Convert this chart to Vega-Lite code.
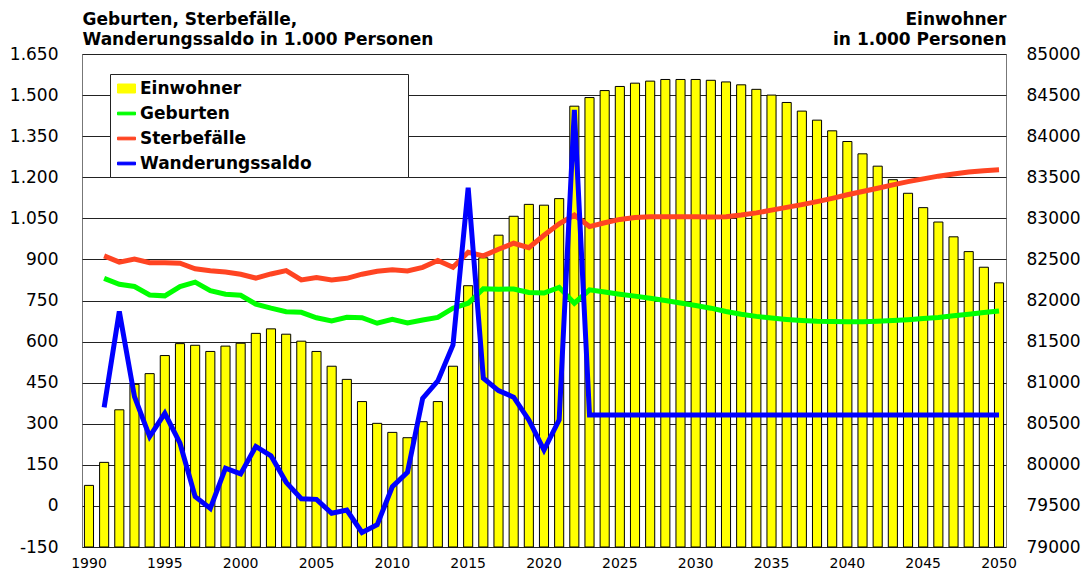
{
  "$schema": "https://vega.github.io/schema/vega-lite/v6.json",
  "width": 924,
  "height": 493,
  "autosize": {"type": "none"},
  "padding": {"left": 82, "top": 54, "right": 77, "bottom": 29},
  "background": "white",
  "config": {
    "view": {"stroke": "#777", "strokeWidth": 1},
    "font": "DejaVu Sans"
  },
  "datasets": {
    "bev": [
      {"year": 1990, "serie": "Einwohner", "value": 79750},
      {"year": 1991, "serie": "Einwohner", "value": 80030},
      {"year": 1992, "serie": "Einwohner", "value": 80670},
      {"year": 1993, "serie": "Einwohner", "value": 80980},
      {"year": 1994, "serie": "Einwohner", "value": 81110},
      {"year": 1995, "serie": "Einwohner", "value": 81330},
      {"year": 1996, "serie": "Einwohner", "value": 81475},
      {"year": 1997, "serie": "Einwohner", "value": 81455},
      {"year": 1998, "serie": "Einwohner", "value": 81380},
      {"year": 1999, "serie": "Einwohner", "value": 81445},
      {"year": 2000, "serie": "Einwohner", "value": 81480},
      {"year": 2001, "serie": "Einwohner", "value": 81600},
      {"year": 2002, "serie": "Einwohner", "value": 81655},
      {"year": 2003, "serie": "Einwohner", "value": 81590},
      {"year": 2004, "serie": "Einwohner", "value": 81505},
      {"year": 2005, "serie": "Einwohner", "value": 81380},
      {"year": 2006, "serie": "Einwohner", "value": 81200},
      {"year": 2007, "serie": "Einwohner", "value": 81040},
      {"year": 2008, "serie": "Einwohner", "value": 80770},
      {"year": 2009, "serie": "Einwohner", "value": 80505},
      {"year": 2010, "serie": "Einwohner", "value": 80395},
      {"year": 2011, "serie": "Einwohner", "value": 80330},
      {"year": 2012, "serie": "Einwohner", "value": 80525},
      {"year": 2013, "serie": "Einwohner", "value": 80770},
      {"year": 2014, "serie": "Einwohner", "value": 81200},
      {"year": 2015, "serie": "Einwohner", "value": 82180},
      {"year": 2016, "serie": "Einwohner", "value": 82520},
      {"year": 2017, "serie": "Einwohner", "value": 82795},
      {"year": 2018, "serie": "Einwohner", "value": 83025},
      {"year": 2019, "serie": "Einwohner", "value": 83170},
      {"year": 2020, "serie": "Einwohner", "value": 83160},
      {"year": 2021, "serie": "Einwohner", "value": 83240},
      {"year": 2022, "serie": "Einwohner", "value": 84365},
      {"year": 2023, "serie": "Einwohner", "value": 84470},
      {"year": 2024, "serie": "Einwohner", "value": 84555},
      {"year": 2025, "serie": "Einwohner", "value": 84605},
      {"year": 2026, "serie": "Einwohner", "value": 84645},
      {"year": 2027, "serie": "Einwohner", "value": 84670},
      {"year": 2028, "serie": "Einwohner", "value": 84690},
      {"year": 2029, "serie": "Einwohner", "value": 84690},
      {"year": 2030, "serie": "Einwohner", "value": 84690},
      {"year": 2031, "serie": "Einwohner", "value": 84680},
      {"year": 2032, "serie": "Einwohner", "value": 84660},
      {"year": 2033, "serie": "Einwohner", "value": 84625},
      {"year": 2034, "serie": "Einwohner", "value": 84570},
      {"year": 2035, "serie": "Einwohner", "value": 84500},
      {"year": 2036, "serie": "Einwohner", "value": 84410},
      {"year": 2037, "serie": "Einwohner", "value": 84305},
      {"year": 2038, "serie": "Einwohner", "value": 84195},
      {"year": 2039, "serie": "Einwohner", "value": 84065},
      {"year": 2040, "serie": "Einwohner", "value": 83935},
      {"year": 2041, "serie": "Einwohner", "value": 83785},
      {"year": 2042, "serie": "Einwohner", "value": 83635},
      {"year": 2043, "serie": "Einwohner", "value": 83470},
      {"year": 2044, "serie": "Einwohner", "value": 83305},
      {"year": 2045, "serie": "Einwohner", "value": 83130},
      {"year": 2046, "serie": "Einwohner", "value": 82955},
      {"year": 2047, "serie": "Einwohner", "value": 82775},
      {"year": 2048, "serie": "Einwohner", "value": 82595},
      {"year": 2049, "serie": "Einwohner", "value": 82405},
      {"year": 2050, "serie": "Einwohner", "value": 82215}
    ],
    "lines": [
      {"year": 1991, "serie": "Geburten", "value": 831},
      {"year": 1992, "serie": "Geburten", "value": 809},
      {"year": 1993, "serie": "Geburten", "value": 801},
      {"year": 1994, "serie": "Geburten", "value": 770},
      {"year": 1995, "serie": "Geburten", "value": 767},
      {"year": 1996, "serie": "Geburten", "value": 801},
      {"year": 1997, "serie": "Geburten", "value": 817},
      {"year": 1998, "serie": "Geburten", "value": 786},
      {"year": 1999, "serie": "Geburten", "value": 773},
      {"year": 2000, "serie": "Geburten", "value": 769},
      {"year": 2001, "serie": "Geburten", "value": 737},
      {"year": 2002, "serie": "Geburten", "value": 722},
      {"year": 2003, "serie": "Geburten", "value": 709},
      {"year": 2004, "serie": "Geburten", "value": 707},
      {"year": 2005, "serie": "Geburten", "value": 687},
      {"year": 2006, "serie": "Geburten", "value": 675},
      {"year": 2007, "serie": "Geburten", "value": 689},
      {"year": 2008, "serie": "Geburten", "value": 687},
      {"year": 2009, "serie": "Geburten", "value": 667},
      {"year": 2010, "serie": "Geburten", "value": 681},
      {"year": 2011, "serie": "Geburten", "value": 668},
      {"year": 2012, "serie": "Geburten", "value": 679},
      {"year": 2013, "serie": "Geburten", "value": 688},
      {"year": 2014, "serie": "Geburten", "value": 722},
      {"year": 2015, "serie": "Geburten", "value": 740},
      {"year": 2016, "serie": "Geburten", "value": 793},
      {"year": 2017, "serie": "Geburten", "value": 791},
      {"year": 2018, "serie": "Geburten", "value": 792},
      {"year": 2019, "serie": "Geburten", "value": 779},
      {"year": 2020, "serie": "Geburten", "value": 777},
      {"year": 2021, "serie": "Geburten", "value": 798},
      {"year": 2022, "serie": "Geburten", "value": 740},
      {"year": 2023, "serie": "Geburten", "value": 789},
      {"year": 2024, "serie": "Geburten", "value": 781},
      {"year": 2025, "serie": "Geburten", "value": 773},
      {"year": 2026, "serie": "Geburten", "value": 766},
      {"year": 2027, "serie": "Geburten", "value": 758},
      {"year": 2028, "serie": "Geburten", "value": 750},
      {"year": 2029, "serie": "Geburten", "value": 741},
      {"year": 2030, "serie": "Geburten", "value": 732},
      {"year": 2031, "serie": "Geburten", "value": 722},
      {"year": 2032, "serie": "Geburten", "value": 710},
      {"year": 2033, "serie": "Geburten", "value": 700},
      {"year": 2034, "serie": "Geburten", "value": 692},
      {"year": 2035, "serie": "Geburten", "value": 686},
      {"year": 2036, "serie": "Geburten", "value": 681},
      {"year": 2037, "serie": "Geburten", "value": 677},
      {"year": 2038, "serie": "Geburten", "value": 674},
      {"year": 2039, "serie": "Geburten", "value": 673},
      {"year": 2040, "serie": "Geburten", "value": 672},
      {"year": 2041, "serie": "Geburten", "value": 672},
      {"year": 2042, "serie": "Geburten", "value": 674},
      {"year": 2043, "serie": "Geburten", "value": 677},
      {"year": 2044, "serie": "Geburten", "value": 680},
      {"year": 2045, "serie": "Geburten", "value": 684},
      {"year": 2046, "serie": "Geburten", "value": 688},
      {"year": 2047, "serie": "Geburten", "value": 694},
      {"year": 2048, "serie": "Geburten", "value": 700},
      {"year": 2049, "serie": "Geburten", "value": 706},
      {"year": 2050, "serie": "Geburten", "value": 712},
      {"year": 1991, "serie": "Sterbefälle", "value": 913},
      {"year": 1992, "serie": "Sterbefälle", "value": 890},
      {"year": 1993, "serie": "Sterbefälle", "value": 901},
      {"year": 1994, "serie": "Sterbefälle", "value": 888},
      {"year": 1995, "serie": "Sterbefälle", "value": 888},
      {"year": 1996, "serie": "Sterbefälle", "value": 886},
      {"year": 1997, "serie": "Sterbefälle", "value": 866},
      {"year": 1998, "serie": "Sterbefälle", "value": 859},
      {"year": 1999, "serie": "Sterbefälle", "value": 854},
      {"year": 2000, "serie": "Sterbefälle", "value": 846},
      {"year": 2001, "serie": "Sterbefälle", "value": 832},
      {"year": 2002, "serie": "Sterbefälle", "value": 847},
      {"year": 2003, "serie": "Sterbefälle", "value": 859},
      {"year": 2004, "serie": "Sterbefälle", "value": 825},
      {"year": 2005, "serie": "Sterbefälle", "value": 834},
      {"year": 2006, "serie": "Sterbefälle", "value": 825},
      {"year": 2007, "serie": "Sterbefälle", "value": 831},
      {"year": 2008, "serie": "Sterbefälle", "value": 846},
      {"year": 2009, "serie": "Sterbefälle", "value": 857},
      {"year": 2010, "serie": "Sterbefälle", "value": 862},
      {"year": 2011, "serie": "Sterbefälle", "value": 858},
      {"year": 2012, "serie": "Sterbefälle", "value": 871},
      {"year": 2013, "serie": "Sterbefälle", "value": 896},
      {"year": 2014, "serie": "Sterbefälle", "value": 871},
      {"year": 2015, "serie": "Sterbefälle", "value": 926},
      {"year": 2016, "serie": "Sterbefälle", "value": 913},
      {"year": 2017, "serie": "Sterbefälle", "value": 937},
      {"year": 2018, "serie": "Sterbefälle", "value": 959},
      {"year": 2019, "serie": "Sterbefälle", "value": 943},
      {"year": 2020, "serie": "Sterbefälle", "value": 988},
      {"year": 2021, "serie": "Sterbefälle", "value": 1030},
      {"year": 2022, "serie": "Sterbefälle", "value": 1062},
      {"year": 2023, "serie": "Sterbefälle", "value": 1020},
      {"year": 2024, "serie": "Sterbefälle", "value": 1034},
      {"year": 2025, "serie": "Sterbefälle", "value": 1046},
      {"year": 2026, "serie": "Sterbefälle", "value": 1053},
      {"year": 2027, "serie": "Sterbefälle", "value": 1056},
      {"year": 2028, "serie": "Sterbefälle", "value": 1056},
      {"year": 2029, "serie": "Sterbefälle", "value": 1056},
      {"year": 2030, "serie": "Sterbefälle", "value": 1056},
      {"year": 2031, "serie": "Sterbefälle", "value": 1055},
      {"year": 2032, "serie": "Sterbefälle", "value": 1056},
      {"year": 2033, "serie": "Sterbefälle", "value": 1062},
      {"year": 2034, "serie": "Sterbefälle", "value": 1070},
      {"year": 2035, "serie": "Sterbefälle", "value": 1080},
      {"year": 2036, "serie": "Sterbefälle", "value": 1090},
      {"year": 2037, "serie": "Sterbefälle", "value": 1100},
      {"year": 2038, "serie": "Sterbefälle", "value": 1111},
      {"year": 2039, "serie": "Sterbefälle", "value": 1123},
      {"year": 2040, "serie": "Sterbefälle", "value": 1136},
      {"year": 2041, "serie": "Sterbefälle", "value": 1148},
      {"year": 2042, "serie": "Sterbefälle", "value": 1160},
      {"year": 2043, "serie": "Sterbefälle", "value": 1172},
      {"year": 2044, "serie": "Sterbefälle", "value": 1184},
      {"year": 2045, "serie": "Sterbefälle", "value": 1194},
      {"year": 2046, "serie": "Sterbefälle", "value": 1204},
      {"year": 2047, "serie": "Sterbefälle", "value": 1212},
      {"year": 2048, "serie": "Sterbefälle", "value": 1219},
      {"year": 2049, "serie": "Sterbefälle", "value": 1224},
      {"year": 2050, "serie": "Sterbefälle", "value": 1227},
      {"year": 1991, "serie": "Wanderungssaldo", "value": 360},
      {"year": 1992, "serie": "Wanderungssaldo", "value": 710},
      {"year": 1993, "serie": "Wanderungssaldo", "value": 399},
      {"year": 1994, "serie": "Wanderungssaldo", "value": 253},
      {"year": 1995, "serie": "Wanderungssaldo", "value": 338},
      {"year": 1996, "serie": "Wanderungssaldo", "value": 229},
      {"year": 1997, "serie": "Wanderungssaldo", "value": 34},
      {"year": 1998, "serie": "Wanderungssaldo", "value": -9},
      {"year": 1999, "serie": "Wanderungssaldo", "value": 138},
      {"year": 2000, "serie": "Wanderungssaldo", "value": 117},
      {"year": 2001, "serie": "Wanderungssaldo", "value": 217},
      {"year": 2002, "serie": "Wanderungssaldo", "value": 183},
      {"year": 2003, "serie": "Wanderungssaldo", "value": 86},
      {"year": 2004, "serie": "Wanderungssaldo", "value": 26},
      {"year": 2005, "serie": "Wanderungssaldo", "value": 24},
      {"year": 2006, "serie": "Wanderungssaldo", "value": -27},
      {"year": 2007, "serie": "Wanderungssaldo", "value": -15},
      {"year": 2008, "serie": "Wanderungssaldo", "value": -97},
      {"year": 2009, "serie": "Wanderungssaldo", "value": -69},
      {"year": 2010, "serie": "Wanderungssaldo", "value": 70},
      {"year": 2011, "serie": "Wanderungssaldo", "value": 123},
      {"year": 2012, "serie": "Wanderungssaldo", "value": 393},
      {"year": 2013, "serie": "Wanderungssaldo", "value": 456},
      {"year": 2014, "serie": "Wanderungssaldo", "value": 588},
      {"year": 2015, "serie": "Wanderungssaldo", "value": 1162},
      {"year": 2016, "serie": "Wanderungssaldo", "value": 466},
      {"year": 2017, "serie": "Wanderungssaldo", "value": 421},
      {"year": 2018, "serie": "Wanderungssaldo", "value": 397},
      {"year": 2019, "serie": "Wanderungssaldo", "value": 314},
      {"year": 2020, "serie": "Wanderungssaldo", "value": 204},
      {"year": 2021, "serie": "Wanderungssaldo", "value": 314},
      {"year": 2022, "serie": "Wanderungssaldo", "value": 1446},
      {"year": 2023, "serie": "Wanderungssaldo", "value": 332},
      {"year": 2024, "serie": "Wanderungssaldo", "value": 332},
      {"year": 2025, "serie": "Wanderungssaldo", "value": 332},
      {"year": 2026, "serie": "Wanderungssaldo", "value": 332},
      {"year": 2027, "serie": "Wanderungssaldo", "value": 332},
      {"year": 2028, "serie": "Wanderungssaldo", "value": 332},
      {"year": 2029, "serie": "Wanderungssaldo", "value": 332},
      {"year": 2030, "serie": "Wanderungssaldo", "value": 332},
      {"year": 2031, "serie": "Wanderungssaldo", "value": 332},
      {"year": 2032, "serie": "Wanderungssaldo", "value": 332},
      {"year": 2033, "serie": "Wanderungssaldo", "value": 332},
      {"year": 2034, "serie": "Wanderungssaldo", "value": 332},
      {"year": 2035, "serie": "Wanderungssaldo", "value": 332},
      {"year": 2036, "serie": "Wanderungssaldo", "value": 332},
      {"year": 2037, "serie": "Wanderungssaldo", "value": 332},
      {"year": 2038, "serie": "Wanderungssaldo", "value": 332},
      {"year": 2039, "serie": "Wanderungssaldo", "value": 332},
      {"year": 2040, "serie": "Wanderungssaldo", "value": 332},
      {"year": 2041, "serie": "Wanderungssaldo", "value": 332},
      {"year": 2042, "serie": "Wanderungssaldo", "value": 332},
      {"year": 2043, "serie": "Wanderungssaldo", "value": 332},
      {"year": 2044, "serie": "Wanderungssaldo", "value": 332},
      {"year": 2045, "serie": "Wanderungssaldo", "value": 332},
      {"year": 2046, "serie": "Wanderungssaldo", "value": 332},
      {"year": 2047, "serie": "Wanderungssaldo", "value": 332},
      {"year": 2048, "serie": "Wanderungssaldo", "value": 332},
      {"year": 2049, "serie": "Wanderungssaldo", "value": 332},
      {"year": 2050, "serie": "Wanderungssaldo", "value": 332}
    ]
  },
  "layer": [
    {
      "data": {"name": "bev"},
      "mark": {"type": "bar", "stroke": "#000", "strokeWidth": 1, "opacity": 1},
      "encoding": {
        "x": {
          "field": "year", "type": "ordinal",
          "scale": {"paddingInner": 0.4, "paddingOuter": 0.16},
          "axis": {"values": [1990, 1995, 2000, 2005, 2010, 2015, 2020, 2025, 2030, 2035, 2040, 2045, 2050], "ticks": false, "domain": false, "grid": false, "labelAngle": 0, "labelFontSize": 14, "labelFont": "DejaVu Sans", "labelColor": "#000", "labelPadding": 9, "title": null}
        },
        "y": {
          "field": "value", "type": "quantitative",
          "scale": {"domain": [79000, 85000], "nice": false, "zero": false},
          "axis": {"orient": "right", "values": [79000, 79500, 80000, 80500, 81000, 81500, 82000, 82500, 83000, 83500, 84000, 84500, 85000], "format": "d", "ticks": false, "domain": false, "grid": false, "labelFontSize": 17, "labelFont": "DejaVu Sans", "labelColor": "#000", "labelPadding": 20,
            "title": ["Einwohner", "in 1.000 Personen"], "titleAngle": 0, "titleAlign": "right", "titleBaseline": "alphabetic", "titleX": 0, "titleY": -30, "titleFont": "DejaVu Sans", "titleFontSize": 17, "titleFontWeight": "bold", "titleLineHeight": 20, "titleColor": "#000"}
        },
        "y2": {"datum": 79000},
        "color": {
          "field": "serie", "type": "nominal",
          "scale": {"domain": ["Einwohner", "Geburten", "Sterbefälle", "Wanderungssaldo"], "range": ["#ffff00", "#00ff00", "#ff4422", "#0000ff"]},
          "legend": {
            "orient": "none", "legendX": 28, "legendY": 20,
            "title": "x", "titleOrient": "right", "titleOpacity": 0, "titlePadding": 84, "titleFontSize": 10,
            "strokeColor": "#222", "fillColor": "#fff", "padding": 5,
            "labelFont": "DejaVu Sans", "labelFontWeight": "bold", "labelFontSize": 17, "labelColor": "#000",
            "labelLimit": 500, "rowPadding": 7, "symbolSize": 324, "symbolOffset": 2, "labelOffset": 4,
            "encode": {
              "symbols": {"update": {
              "shape": {"signal": "datum.value === 'Einwohner' ? 'M-1,-0.5H1V0.5H-1Z' : 'M-1,-0.15H1V0.15H-1Z'"},
              "fill": {"scale": "color", "field": "value"},
              "stroke": {"signal": "datum.value === 'Einwohner' ? '#000' : 'transparent'"},
              "strokeWidth": {"value": 1},
              "opacity": {"value": 1},
              "fillOpacity": {"value": 1}
            }}}
          }
        }
      }
    },
    {
      "data": {"name": "lines"},
      "mark": {"type": "line", "strokeWidth": 5},
      "encoding": {
        "x": {
          "field": "year", "type": "ordinal",
          "axis": {"values": [1990, 1995, 2000, 2005, 2010, 2015, 2020, 2025, 2030, 2035, 2040, 2045, 2050], "ticks": false, "domain": false, "grid": false, "labelAngle": 0, "labelFontSize": 14, "labelFont": "DejaVu Sans", "labelColor": "#000", "labelPadding": 9, "title": null}
        },
        "y": {
          "field": "value", "type": "quantitative",
          "scale": {"domain": [-150, 1650], "nice": false, "zero": false},
          "axis": {"orient": "left", "values": [-150, 0, 150, 300, 450, 600, 750, 900, 1050, 1200, 1350, 1500, 1650], "labelExpr": "datum.value < 0 ? '-' + format(-datum.value, ',') : replace(format(datum.value, ','), ',', '.')", "ticks": false, "domain": false, "grid": true, "gridColor": "#222", "gridWidth": 1, "gridOpacity": 1, "labelFontSize": 17, "labelFont": "DejaVu Sans", "labelColor": "#000", "labelPadding": 24,
            "title": ["Geburten, Sterbefälle,", "Wanderungssaldo in 1.000 Personen"], "titleAngle": 0, "titleAlign": "left", "titleBaseline": "alphabetic", "titleX": 0, "titleY": -30, "titleFont": "DejaVu Sans", "titleFontSize": 17, "titleFontWeight": "bold", "titleLineHeight": 20, "titleColor": "#000"}
        },
        "color": {
          "field": "serie", "type": "nominal",
          "scale": {"domain": ["Einwohner", "Geburten", "Sterbefälle", "Wanderungssaldo"], "range": ["#ffff00", "#00ff00", "#ff4422", "#0000ff"]},
          "legend": {
            "orient": "none", "legendX": 28, "legendY": 20,
            "title": "x", "titleOrient": "right", "titleOpacity": 0, "titlePadding": 84, "titleFontSize": 10,
            "strokeColor": "#222", "fillColor": "#fff", "padding": 5,
            "labelFont": "DejaVu Sans", "labelFontWeight": "bold", "labelFontSize": 17, "labelColor": "#000",
            "labelLimit": 500, "rowPadding": 7, "symbolSize": 324, "symbolOffset": 2, "labelOffset": 4,
            "encode": {
              "symbols": {"update": {
              "shape": {"signal": "datum.value === 'Einwohner' ? 'M-1,-0.5H1V0.5H-1Z' : 'M-1,-0.15H1V0.15H-1Z'"},
              "fill": {"scale": "color", "field": "value"},
              "stroke": {"signal": "datum.value === 'Einwohner' ? '#000' : 'transparent'"},
              "strokeWidth": {"value": 1},
              "opacity": {"value": 1},
              "fillOpacity": {"value": 1}
            }}}
          }
        }
      }
    }
  ],
  "resolve": {"scale": {"y": "independent"}}
}
